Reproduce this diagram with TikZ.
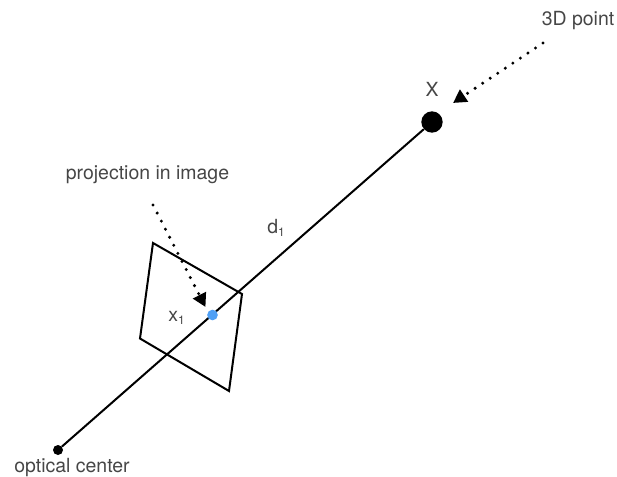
\documentclass[tikz,border=0pt]{standalone}
\usepackage{fontspec}
\setmainfont{TeX Gyre Heros}
\usetikzlibrary{arrows.meta}
\definecolor{dotblue}{RGB}{80,160,245}
\definecolor{lblgray}{RGB}{70,70,70}
\newcommand{\lowone}{\raisebox{-0.25ex}{\fontsize{9}{10}\selectfont 1}}
\tikzset{
 x=0.75pt,y=-0.75pt,
 lbl/.style={font=\fontsize{14.6}{16}\selectfont,text=lblgray,inner sep=0pt},
 ptr/.style={line width=2.5pt,line cap=round,dash pattern=on 0pt off 6.8pt,-{Triangle[length=10pt,width=10.5pt]}},
 ray/.style={line width=1.5pt},
 plane/.style={line width=1.5pt,draw=black}
}
\begin{document}
\begin{tikzpicture}
\useasboundingbox (0,0) rectangle (617,477);
\coordinate (pa) at (153,243);
\coordinate (pb) at (242,294);
\coordinate (pc) at (229,391);
\coordinate (pd) at (140,338.5);
\draw[plane] (pa) -- (pb) -- (pc) -- (pd) -- cycle;
\node[circle,fill=black,minimum size=7.5pt,inner sep=0pt] (oc) at (58,450) {};
\node[circle,fill=black,minimum size=16pt,inner sep=0pt] (X) at (432,122) {};
\draw[ray] (oc) -- (X);
\node[circle,fill=dotblue,minimum size=8pt,inner sep=0pt] (x1) at (212.5,315) {};
\node[lbl] (t3d) at (578,21) {3D point};
\node[lbl] (tX) at (432,89) {X};
\node[lbl] (tproj) at (147.5,174.5) {projection in image};
\node[lbl] (td) at (276,228) {d\lowone};
\node[lbl] (tx) at (176.5,318) {x\lowone};
\node[lbl] (topt) at (72,468) {optical center};
\coordinate (a1) at (543,43);
\coordinate (a2) at (453,103);
\coordinate (b1) at (153,205);
\coordinate (b2) at (205.5,307);
\draw[ptr] (a1) -- (a2);
\draw[ptr] (b1) -- (b2);
\end{tikzpicture}
\end{document}
